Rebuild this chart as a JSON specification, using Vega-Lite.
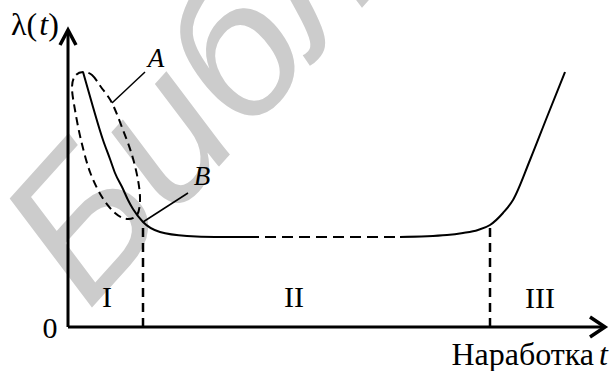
{
  "$schema": "https://vega.github.io/schema/vega-lite/v6.json",
  "width": 612,
  "height": 371,
  "padding": 0,
  "autosize": {"type": "none"},
  "background": "white",
  "config": {"view": {"stroke": null}},
  "datasets": {
    "curve": [
      {"seg": 1, "i": 1, "t": 0.15, "v": 2.55},
      {"seg": 1, "i": 2, "t": 0.25, "v": 2.20},
      {"seg": 1, "i": 3, "t": 0.35, "v": 1.87},
      {"seg": 1, "i": 4, "t": 0.42, "v": 1.68},
      {"seg": 1, "i": 5, "t": 0.47, "v": 1.54},
      {"seg": 1, "i": 6, "t": 0.55, "v": 1.38},
      {"seg": 1, "i": 7, "t": 0.60, "v": 1.27},
      {"seg": 1, "i": 8, "t": 0.65, "v": 1.18},
      {"seg": 1, "i": 9, "t": 0.75, "v": 1.05},
      {"seg": 1, "i": 10, "t": 0.92, "v": 0.95},
      {"seg": 1, "i": 11, "t": 1.19, "v": 0.91},
      {"seg": 1, "i": 12, "t": 1.47, "v": 0.90},
      {"seg": 1, "i": 13, "t": 1.80, "v": 0.90},
      {"seg": 3, "i": 1, "t": 3.32, "v": 0.90},
      {"seg": 3, "i": 2, "t": 3.79, "v": 0.92},
      {"seg": 3, "i": 3, "t": 3.95, "v": 0.94},
      {"seg": 3, "i": 4, "t": 4.10, "v": 0.97},
      {"seg": 3, "i": 5, "t": 4.22, "v": 1.02},
      {"seg": 3, "i": 6, "t": 4.35, "v": 1.14},
      {"seg": 3, "i": 7, "t": 4.45, "v": 1.27},
      {"seg": 3, "i": 8, "t": 4.62, "v": 1.67},
      {"seg": 3, "i": 9, "t": 4.79, "v": 2.10},
      {"seg": 3, "i": 10, "t": 4.97, "v": 2.55}
    ],
    "flat": [
      {"i": 1, "t": 1.80, "v": 0.90},
      {"i": 2, "t": 3.32, "v": 0.90}
    ],
    "ellipse": [
      {"i": 1, "t": 0.15, "v": 2.55},
      {"i": 2, "t": 0.24, "v": 2.52},
      {"i": 3, "t": 0.33, "v": 2.40},
      {"i": 4, "t": 0.44, "v": 2.24},
      {"i": 5, "t": 0.55, "v": 1.97},
      {"i": 6, "t": 0.64, "v": 1.72},
      {"i": 7, "t": 0.70, "v": 1.47},
      {"i": 8, "t": 0.72, "v": 1.27},
      {"i": 9, "t": 0.69, "v": 1.12},
      {"i": 10, "t": 0.59, "v": 1.08},
      {"i": 11, "t": 0.47, "v": 1.14},
      {"i": 12, "t": 0.34, "v": 1.30},
      {"i": 13, "t": 0.22, "v": 1.55},
      {"i": 14, "t": 0.13, "v": 1.87},
      {"i": 15, "t": 0.07, "v": 2.17},
      {"i": 16, "t": 0.04, "v": 2.39},
      {"i": 17, "t": 0.07, "v": 2.51}
    ],
    "bounds": [
      {"t": 0.75, "v": 0, "v2": 1.05},
      {"t": 4.22, "v": 0, "v2": 1.02}
    ],
    "axes": [
      {"seg": "y", "i": 1, "t": 0, "v": 0},
      {"seg": "y", "i": 2, "t": 0, "v": 2.96},
      {"seg": "x", "i": 1, "t": 0, "v": 0},
      {"seg": "x", "i": 2, "t": 5.36, "v": 0}
    ],
    "arrows": [
      {"seg": "y", "i": 1, "t": -0.08, "v": 2.82},
      {"seg": "y", "i": 2, "t": 0, "v": 2.97},
      {"seg": "y", "i": 3, "t": 0.08, "v": 2.82},
      {"seg": "x", "i": 1, "t": 5.22, "v": 0.10},
      {"seg": "x", "i": 2, "t": 5.37, "v": 0},
      {"seg": "x", "i": 3, "t": 5.22, "v": -0.10}
    ],
    "leaders": [
      {"seg": "A", "i": 1, "t": 0.44, "v": 2.24},
      {"seg": "A", "i": 2, "t": 0.77, "v": 2.55},
      {"seg": "B", "i": 1, "t": 0.75, "v": 1.05},
      {"seg": "B", "i": 2, "t": 1.20, "v": 1.34}
    ]
  },
  "encoding": {
    "x": {"field": "t", "type": "quantitative", "scale": {"domain": [-0.68, 5.44], "nice": false, "zero": false}, "axis": null},
    "y": {"field": "v", "type": "quantitative", "scale": {"domain": [-0.44, 3.27], "nice": false, "zero": false}, "axis": null}
  },
  "layer": [
    {
      "data": {"values": [{"t": 0.20, "v": 0.15, "label": "Библиотека БГУИР"}]},
      "mark": {"type": "text", "font": "Liberation Sans", "fontStyle": "italic", "fontSize": 195, "angle": 312, "color": "#cccccc", "align": "left", "baseline": "alphabetic"},
      "encoding": {"text": {"field": "label"}}
    },
    {
      "data": {"name": "curve"},
      "mark": {"type": "line", "interpolate": "monotone", "color": "black", "strokeWidth": 2},
      "encoding": {"detail": {"field": "seg"}, "order": {"field": "i", "type": "quantitative"}}
    },
    {
      "data": {"name": "flat"},
      "mark": {"type": "line", "color": "black", "strokeWidth": 2, "strokeDash": [11, 6]},
      "encoding": {"order": {"field": "i", "type": "quantitative"}}
    },
    {
      "data": {"name": "ellipse"},
      "mark": {"type": "line", "interpolate": "cardinal-closed", "color": "black", "strokeWidth": 2, "strokeDash": [8, 5]},
      "encoding": {"order": {"field": "i", "type": "quantitative"}}
    },
    {
      "data": {"name": "bounds"},
      "mark": {"type": "rule", "color": "black", "strokeWidth": 2.5, "strokeDash": [9, 6]},
      "encoding": {"y2": {"field": "v2"}}
    },
    {
      "data": {"name": "axes"},
      "mark": {"type": "line", "color": "black", "strokeWidth": 3},
      "encoding": {"detail": {"field": "seg"}, "order": {"field": "i", "type": "quantitative"}}
    },
    {
      "data": {"name": "arrows"},
      "mark": {"type": "line", "color": "black", "strokeWidth": 3.5, "strokeJoin": "miter"},
      "encoding": {"detail": {"field": "seg"}, "order": {"field": "i", "type": "quantitative"}}
    },
    {
      "data": {"name": "leaders"},
      "mark": {"type": "line", "color": "black", "strokeWidth": 1.5},
      "encoding": {"detail": {"field": "seg"}, "order": {"field": "i", "type": "quantitative"}}
    },
    {
      "data": {"values": [
        {"t": -0.18, "v": -0.11, "label": "0"},
        {"t": 0.39, "v": 0.20, "label": "I"},
        {"t": 2.26, "v": 0.20, "label": "II"},
        {"t": 4.72, "v": 0.19, "label": "III"}
      ]},
      "mark": {"type": "text", "font": "Liberation Serif", "fontSize": 30, "color": "black", "align": "center", "baseline": "alphabetic"},
      "encoding": {"text": {"field": "label"}}
    },
    {
      "data": {"values": [
        {"t": 0.88, "v": 2.60, "label": "A"},
        {"t": 1.34, "v": 1.42, "label": "B"}
      ]},
      "mark": {"type": "text", "font": "Liberation Serif", "fontStyle": "italic", "fontSize": 27, "color": "black", "align": "center", "baseline": "alphabetic"},
      "encoding": {"text": {"field": "label"}}
    },
    {
      "data": {"values": [
        {"t": -0.57, "v": 2.92, "label": "λ("},
        {"t": -0.197, "v": 2.92, "label": ")"}
      ]},
      "mark": {"type": "text", "font": "Liberation Serif", "fontSize": 32, "color": "black", "align": "left", "baseline": "alphabetic"},
      "encoding": {"text": {"field": "label"}}
    },
    {
      "data": {"values": [
        {"t": -0.287, "v": 2.92, "label": "t"}
      ]},
      "mark": {"type": "text", "font": "Liberation Serif", "fontStyle": "italic", "fontSize": 32, "color": "black", "align": "left", "baseline": "alphabetic"},
      "encoding": {"text": {"field": "label"}}
    },
    {
      "data": {"values": [
        {"t": 5.31, "v": -0.38, "label": "t"}
      ]},
      "mark": {"type": "text", "font": "Liberation Serif", "fontStyle": "italic", "fontSize": 32, "color": "black", "align": "left", "baseline": "alphabetic"},
      "encoding": {"text": {"field": "label"}}
    },
    {
      "data": {"values": [
        {"t": 5.26, "v": -0.38, "label": "Наработка"}
      ]},
      "mark": {"type": "text", "font": "Liberation Serif", "fontSize": 32, "color": "black", "align": "right", "baseline": "alphabetic"},
      "encoding": {"text": {"field": "label"}}
    }
  ]
}
